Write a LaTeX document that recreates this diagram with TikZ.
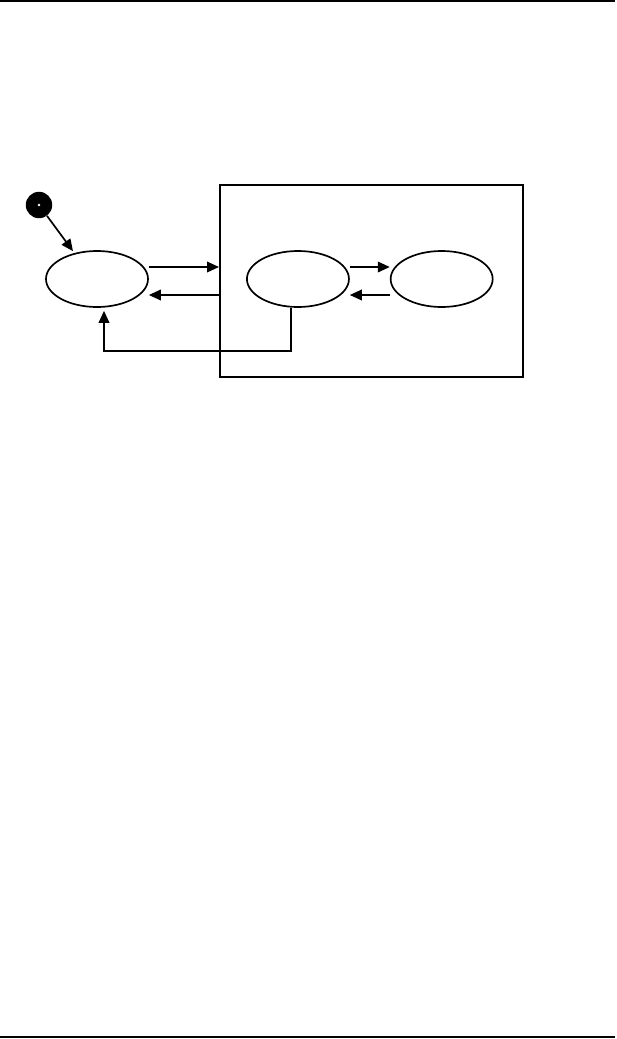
\documentclass[tikz,border=0pt]{standalone}
\usepackage{tikz}
\usetikzlibrary{positioning,shapes.geometric,arrows.meta,calc}

\tikzset{
  state/.style={draw, ellipse, line width=1.2pt, minimum width=2.55cm, minimum height=1.4cm, inner sep=0pt},
  trans/.style={line width=1.2pt, -{Triangle[length=8.5pt,width=7.5pt]}},
}

\begin{document}
\begin{tikzpicture}[x=0.025cm,y=-0.025cm]
    \useasboundingbox (0,0) rectangle (617,1039);
    % page rules
    \draw[line width=1.2pt] (0,1) -- (615,1);
    \draw[line width=1.2pt] (0,1037) -- (615,1037);

    % composite state
    \node[draw, line width=1.3pt, anchor=north west, inner sep=0pt,
          minimum width=7.575cm, minimum height=4.8cm] (super) at (219,184) {};

    % states
    \node[circle, fill=black, minimum size=0.66cm, inner sep=0pt] (init) at (39,205) {};
    \fill[white] (init.center) circle (1pt);
    \node[state] (idle) at (97,279) {};
    \node[state, right=2.43cm of idle] (inner) {};
    \node[state, right=1.0cm of inner] (last) {};

    % transitions
    \draw[trans] (init) -- ($(idle.north)+(-24,1)$);
    \draw[trans] ($(idle.east)+(0,-12)$) coordinate (out1) -- (out1 -| super.west);
    \draw[trans] ($(idle.east)+(0,16)$) coordinate (in1) (in1 -| super.west) -- (in1);
    \draw[trans] ($(inner.east)+(0,-12)$) -- ($(last.west)+(0,-12)$);
    \draw[trans] ($(last.west)+(0,16)$) -- ($(inner.east)+(0,16)$);
    \draw[trans] ($(inner.south)+(-7,0)$) -- ++(0,43) -| ($(idle.south)+(7,3)$);
\end{tikzpicture}
\end{document}
